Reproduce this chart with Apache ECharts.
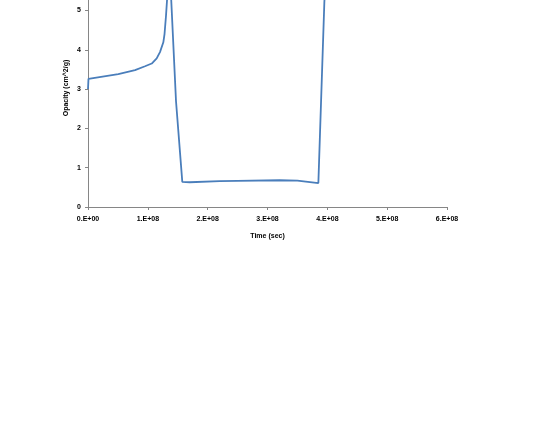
<!DOCTYPE html>
<html><head><meta charset="utf-8">
<script src="https://cdn.jsdelivr.net/npm/echarts@6/dist/echarts.min.js"></script>
<style>html,body{margin:0;padding:0;background:#fff;overflow:hidden;width:545px;height:421px;position:relative}#c{position:absolute;left:0;top:-111px;width:545px;height:532px}</style>
</head><body><div id="c"></div>
<script>
const timeSec = [0, 0.008e8, 0.506e8, 0.786e8, 0.953e8, 1.065e8, 1.148e8, 1.203e8, 1.259e8, 1.279e8, 1.304e8, 1.362e8, 1.471e8, 1.576e8, 1.7e8, 2.2e8, 2.5e8, 3.2e8, 3.5e8, 3.85e8, 3.95e8, 4.0e8];
const opacity = [3.0, 3.26, 3.38, 3.48, 3.58, 3.65, 3.78, 3.94, 4.19, 4.40, 4.87, 6.2, 2.69, 0.64, 0.63, 0.66, 0.665, 0.68, 0.67, 0.61, 5.2, 6.6];
const xTickLabels = ['0.E+00','1.E+08','2.E+08','3.E+08','4.E+08','5.E+08','6.E+08'];
const xName = 'Time (sec)';
const yName = 'Opacity (cm^2/g)';

const chart = echarts.init(document.getElementById('c'), null, {renderer:'canvas'});
const font = 'Liberation Sans';
chart.setOption({
  animation:false,
  grid:{left:88, right:98, top:0, bottom:214},
  xAxis:{type:'value', min:0, max:6e8, interval:1e8,
    name:xName, nameLocation:'middle', nameGap:26,
    nameTextStyle:{fontFamily:font, fontWeight:'bold', fontSize:7, color:'#000'},
    axisLine:{lineStyle:{color:'#868686', width:1}},
    axisTick:{show:true, length:3, lineStyle:{color:'#868686'}},
    axisLabel:{margin:9, fontFamily:font, fontWeight:'bold', fontSize:7, color:'#000',
      formatter:(v)=>xTickLabels[Math.round(v/1e8)]},
    splitLine:{show:false}},
  yAxis:{type:'value', min:0, max:8, interval:1,
    axisLine:{show:true, lineStyle:{color:'#868686', width:1}},
    axisTick:{show:true, length:3, lineStyle:{color:'#868686'}},
    axisLabel:{margin:7, fontFamily:font, fontWeight:'bold', fontSize:7, color:'#000'},
    splitLine:{show:false}},
  graphic:[{type:'text', x:66, y:199, rotation:Math.PI/2,
    style:{text:yName, fontFamily:font, fontWeight:'bold', fontSize:7, fill:'#000', textAlign:'center', textVerticalAlign:'middle'}}],
  series:[{type:'line', data:timeSec.map((t,i)=>[t,opacity[i]]), showSymbol:false,
    lineStyle:{color:'#4a7ebb', width:1.8}, clip:true}]
});
</script></body></html>
